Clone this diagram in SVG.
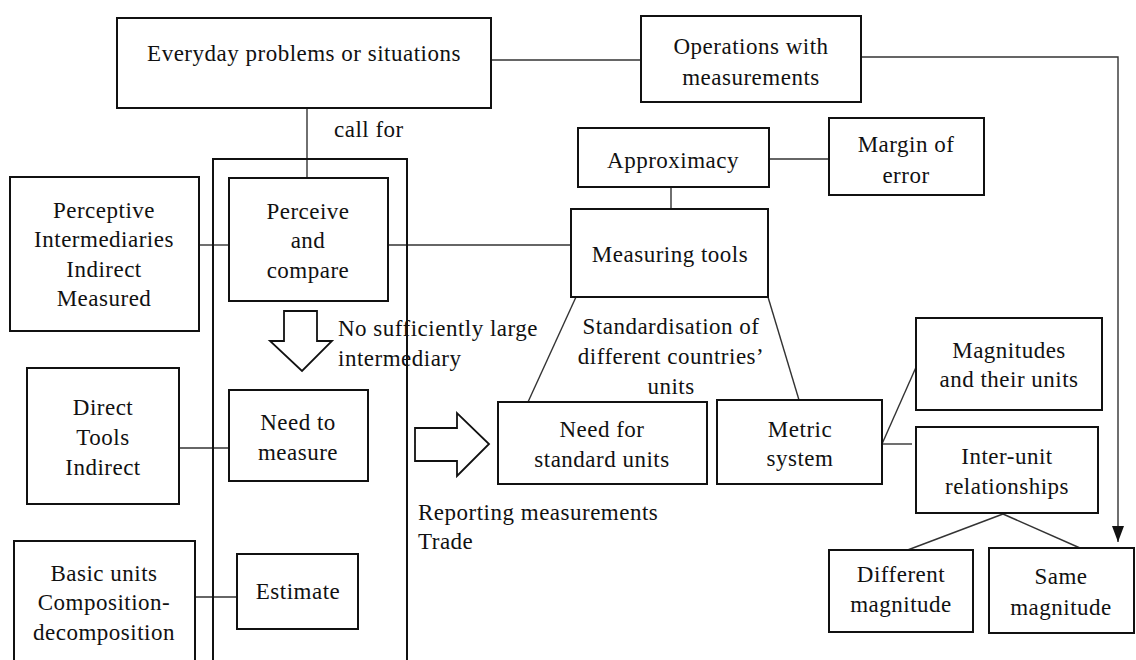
<svg xmlns="http://www.w3.org/2000/svg" width="1136" height="660" viewBox="0 0 1136 660">
<style>
.box{fill:#fff;stroke:#111;stroke-width:2}
.con{fill:none;stroke:#333;stroke-width:1.4}
.blk{fill:#fff;stroke:#111;stroke-width:1.8;stroke-linejoin:miter}
text{font-family:"Liberation Serif","Times New Roman",serif;font-size:23px;letter-spacing:0.5px;fill:#111}
.c{text-anchor:middle}
</style>
<defs>
<marker id="arr" viewBox="0 0 16 12" refX="16" refY="6" markerWidth="16" markerHeight="12" markerUnits="userSpaceOnUse" orient="auto">
<path d="M0,0 L16,6 L0,12 Z" fill="#111"/>
</marker>
</defs>
<rect width="1136" height="660" fill="#fff"/>
<g id="connectors">
<line class="con" x1="491" y1="60" x2="641" y2="60"/>
<path class="con" d="M861,57 H1118 V542" marker-end="url(#arr)"/>
<line class="con" x1="307" y1="108" x2="307" y2="178"/>
<line class="con" x1="769" y1="159" x2="829" y2="159"/>
<line class="con" x1="671" y1="187" x2="671" y2="209"/>
<line class="con" x1="199" y1="245" x2="229" y2="245"/>
<line class="con" x1="388" y1="245" x2="571" y2="245"/>
<line class="con" x1="179" y1="448" x2="229" y2="448"/>
<line class="con" x1="195" y1="597" x2="237" y2="597"/>
<line class="con" x1="576" y1="297" x2="528" y2="402"/>
<line class="con" x1="768" y1="297" x2="799" y2="400"/>
<line class="con" x1="882" y1="444" x2="917" y2="365"/>
<line class="con" x1="882" y1="444" x2="912" y2="444"/>
<line class="con" x1="1003" y1="514" x2="905" y2="551"/>
<line class="con" x1="1003" y1="514" x2="1080" y2="548"/>
</g>
<g id="frame"><rect class="box" x="213" y="159" width="194" height="520" style="fill:none"/></g>
<g id="everyday"><rect class="box" x="117" y="18" width="374" height="90"/><text class="c" x="304" y="61">Everyday problems or situations</text></g>
<g id="callfor"><text x="334" y="137">call for</text></g>
<g id="operations"><rect class="box" x="641" y="16" width="220" height="86"/><text class="c" x="751" y="54">Operations with</text><text class="c" x="751" y="85">measurements</text></g>
<g id="approximacy"><rect class="box" x="578" y="128" width="191" height="59"/><text class="c" x="673" y="168">Approximacy</text></g>
<g id="margin"><rect class="box" x="829" y="118" width="155" height="77"/><text class="c" x="906" y="152">Margin of</text><text class="c" x="906" y="183">error</text></g>
<g id="perceptive"><rect class="box" x="10" y="177" width="189" height="154"/><text class="c" x="104" y="218">Perceptive</text><text class="c" x="104" y="247">Intermediaries</text><text class="c" x="104" y="277">Indirect</text><text class="c" x="104" y="306">Measured</text></g>
<g id="perceive"><rect class="box" x="229" y="178" width="159" height="123"/><text class="c" x="308" y="219">Perceive</text><text class="c" x="308" y="248">and</text><text class="c" x="308" y="278">compare</text></g>
<g id="measuring"><rect class="box" x="571" y="209" width="197" height="88"/><text class="c" x="670" y="262">Measuring tools</text></g>
<g id="downarrow"><polygon class="blk" points="284,311 317,311 317,341 332,341 302,371 270,341 284,341"/></g>
<g id="nolarge"><text x="338" y="336">No sufficiently large</text><text x="338" y="366">intermediary</text></g>
<g id="standardisation"><text class="c" x="671" y="334">Standardisation of</text><text class="c" x="671" y="364">different countries’</text><text class="c" x="671" y="394">units</text></g>
<g id="direct"><rect class="box" x="27" y="368" width="152" height="136"/><text class="c" x="103" y="415">Direct</text><text class="c" x="103" y="445">Tools</text><text class="c" x="103" y="475">Indirect</text></g>
<g id="needmeasure"><rect class="box" x="229" y="390" width="139" height="91"/><text class="c" x="298" y="430">Need to</text><text class="c" x="298" y="460">measure</text></g>
<g id="rightarrow"><polygon class="blk" points="415,428 457,428 457,413 489,444 457,476 457,461 415,461"/></g>
<g id="needstd"><rect class="box" x="498" y="402" width="209" height="82"/><text class="c" x="602" y="437">Need for</text><text class="c" x="602" y="467">standard units</text></g>
<g id="metric"><rect class="box" x="717" y="400" width="165" height="84"/><text class="c" x="800" y="437">Metric</text><text class="c" x="800" y="466">system</text></g>
<g id="magnitudes"><rect class="box" x="916" y="318" width="186" height="92"/><text class="c" x="1009" y="358">Magnitudes</text><text class="c" x="1009" y="387">and their units</text></g>
<g id="interunit"><rect class="box" x="916" y="427" width="182" height="86"/><text class="c" x="1007" y="464">Inter-unit</text><text class="c" x="1007" y="494">relationships</text></g>
<g id="reporting"><text x="418" y="520">Reporting measurements</text><text x="418" y="549">Trade</text></g>
<g id="different"><rect class="box" x="829" y="550" width="144" height="82"/><text class="c" x="901" y="582">Different</text><text class="c" x="901" y="612">magnitude</text></g>
<g id="same"><rect class="box" x="989" y="548" width="145" height="85"/><text class="c" x="1061" y="584">Same</text><text class="c" x="1061" y="615">magnitude</text></g>
<g id="basic"><rect class="box" x="14" y="541" width="181" height="140"/><text class="c" x="104" y="581">Basic units</text><text class="c" x="104" y="610">Composition-</text><text class="c" x="104" y="640">decomposition</text></g>
<g id="estimate"><rect class="box" x="237" y="554" width="121" height="75"/><text class="c" x="298" y="599">Estimate</text></g>
</svg>
